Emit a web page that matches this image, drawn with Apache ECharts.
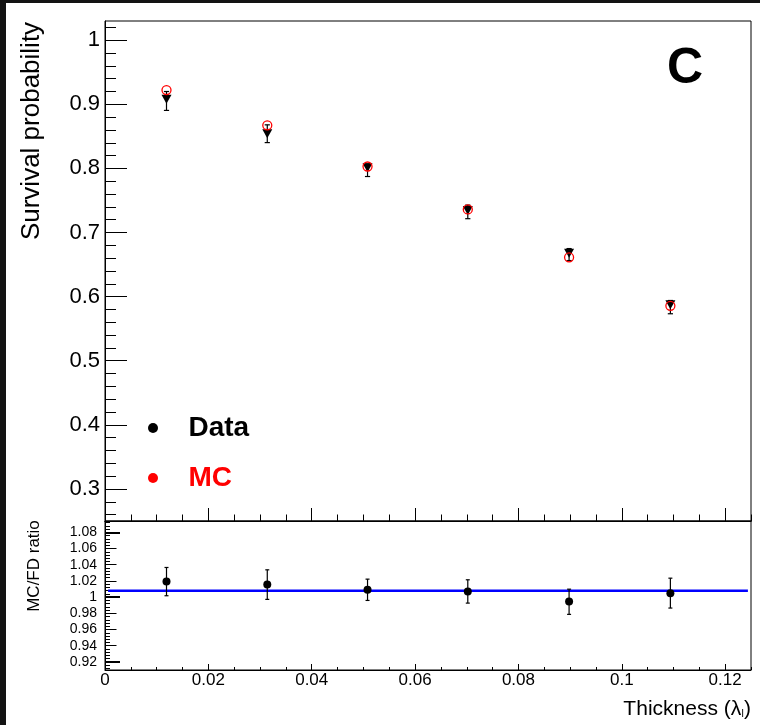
<!DOCTYPE html>
<html><head><meta charset="utf-8">
<script src="https://cdn.jsdelivr.net/npm/echarts@6/dist/echarts.min.js"></script>
<style>html,body{margin:0;padding:0;background:#fff}#c{width:760px;height:725px}</style>
</head><body><div id="c"></div>
<script>
// ---- data ----
const thickness   = [0.0119, 0.0314, 0.0508, 0.0702, 0.0898, 0.1094];
const dataSurv    = [0.9078, 0.8543, 0.8010, 0.7345, 0.6677, 0.5873];
const dataErrLow  = [0.8905, 0.8403, 0.7874, 0.7216, 0.6563, 0.5733];
const dataErrHigh = [0.9200, 0.8680, 0.8070, 0.7428, 0.6750, 0.5940];
const mcSurv      = [0.9222, 0.8672, 0.8030, 0.7360, 0.6614, 0.5857];
const ratioVals   = [1.0193, 1.0156, 1.0091, 1.0070, 0.9947, 1.0049];
const ratioLow    = [1.0017, 0.9972, 0.9959, 0.9926, 0.9787, 0.9865];
const ratioHigh   = [1.0366, 1.0337, 1.0222, 1.0214, 1.0098, 1.0234];
const fitX        = [0.0006, 0.1244];
const fitY        = [1.008, 1.008];
// ---- tick labels ----
const xTicks         = [0, 0.02, 0.04, 0.06, 0.08, 0.1, 0.12];
const yTicks         = [0.3, 0.4, 0.5, 0.6, 0.7, 0.8, 0.9, 1.0];
const ratioTicks     = [0.92, 0.94, 0.96, 0.98, 1.0, 1.02, 1.04, 1.06, 1.08];
const ratioMainTicks = [0.92, 1.0, 1.08];

function steps(a, b, s) { const r = []; const n = Math.round((b - a) / s); for (let k = 0; k <= n; k++) r.push(Math.round((a + k * s) * 1e5) / 1e5); return r; }
const xMinor = steps(0, 0.125, 0.005);
const yMinor = steps(0.26, 1.02, 0.02);
const rMinor = steps(0.912, 1.092, 0.004);

const font = '"Liberation Sans", Arial, Helvetica, sans-serif';
const fmt = v => String(parseFloat(Number(v).toFixed(3)));
const blk = { color: '#000', width: 1 };

function errRender(capHalf) {
  return function (params, api) {
    const x = api.value(0);
    const p1 = api.coord([x, api.value(1)]);
    const p2 = api.coord([x, api.value(2)]);
    const st = { stroke: '#000', lineWidth: 1.2 };
    return { type: 'group', children: [
      { type: 'line', shape: { x1: p1[0], y1: p1[1], x2: p2[0], y2: p2[1] }, style: st },
      { type: 'line', shape: { x1: p1[0] - capHalf, y1: p1[1], x2: p1[0] + capHalf, y2: p1[1] }, style: st },
      { type: 'line', shape: { x1: p2[0] - capHalf, y1: p2[1], x2: p2[0] + capHalf, y2: p2[1] }, style: st }
    ]};
  };
}

function xAx(grid, ticks, len, labels) {
  return { gridIndex: grid, type: 'value', min: 0, max: 0.125, position: 'bottom',
    axisLine: { show: !!labels || grid === 0, lineStyle: blk },
    axisTick: { show: true, inside: true, length: len, customValues: ticks, lineStyle: blk },
    axisLabel: labels ? { show: true, customValues: ticks, formatter: fmt, fontSize: 17, color: '#000', margin: 2, fontFamily: font } : { show: false },
    splitLine: { show: false } };
}
function yAx(grid, min, max, ticks, len, width, label) {
  return { gridIndex: grid, type: 'value', min: min, max: max, position: 'left',
    axisLine: { show: !!label, lineStyle: blk },
    axisTick: { show: true, inside: true, length: len, customValues: ticks, lineStyle: { color: '#000', width: width } },
    axisLabel: label ? Object.assign({ show: true, customValues: ticks, formatter: fmt, color: '#000', fontFamily: font }, label) : { show: false },
    splitLine: { show: false } };
}

const chart = echarts.init(document.getElementById('c'), null, { renderer: 'canvas' });
chart.setOption({
  animation: false,
  backgroundColor: '#fff',
  grid: [
    { left: 105, top: 21, width: 646, height: 500, show: true, borderColor: '#000', borderWidth: 1, backgroundColor: 'transparent' },
    { left: 105, top: 521, width: 646, height: 149, show: true, borderColor: '#000', borderWidth: 1, backgroundColor: 'transparent' }
  ],
  xAxis: [
    xAx(0, xTicks, 13, false),
    xAx(0, xMinor, 6.5, false),
    xAx(1, xTicks, 6, true),
    xAx(1, xMinor, 3, false)
  ],
  yAxis: [
    yAx(0, 0.25, 1.03, yTicks, 22, 1, { fontSize: 22, margin: 5 }),
    yAx(0, 0.25, 1.03, yMinor, 11, 1, null),
    yAx(1, 0.91, 1.094, ratioTicks, 11.5, 1, { fontSize: 14, margin: 8 }),
    yAx(1, 0.91, 1.094, rMinor, 5, 1, null),
    yAx(1, 0.91, 1.094, ratioMainTicks, 15, 2, null)
  ],
  legend: {
    orient: 'vertical', left: 143, top: 409, itemWidth: 61, itemHeight: 10, itemGap: 22,
    selectedMode: false,
    textStyle: { fontSize: 28, fontWeight: 'bold', fontFamily: font, lineHeight: 28 },
    data: [
      { name: 'Data', icon: 'circle', itemStyle: { color: '#000', borderWidth: 0, opacity: 1 }, textStyle: { color: '#000' } },
      { name: 'MC', icon: 'circle', itemStyle: { color: '#ff0000', borderColor: '#ff0000', borderWidth: 0, opacity: 1 }, textStyle: { color: '#ff0000' } }
    ]
  },
  series: [
    { type: 'custom', name: 'DataErr', xAxisIndex: 0, yAxisIndex: 0, z: 2,
      renderItem: errRender(2.6), encode: { x: 0, y: [1, 2] },
      data: thickness.map((x, i) => [x, dataErrLow[i], dataErrHigh[i]]) },
    { type: 'scatter', name: 'Data', xAxisIndex: 0, yAxisIndex: 0, z: 3,
      symbol: 'triangle', symbolRotate: 180, symbolSize: [10, 9],
      itemStyle: { color: '#000', opacity: 1 },
      data: thickness.map((x, i) => [x, dataSurv[i]]) },
    { type: 'scatter', name: 'MC', xAxisIndex: 0, yAxisIndex: 0, z: 4,
      symbol: 'circle', symbolSize: 9,
      itemStyle: { color: 'rgba(0,0,0,0)', borderColor: '#ff0000', borderWidth: 1.3, opacity: 1 },
      data: thickness.map((x, i) => [x, mcSurv[i]]) },
    { type: 'line', name: 'Fit', xAxisIndex: 2, yAxisIndex: 2, z: 1,
      symbol: 'none', lineStyle: { color: '#0000ff', width: 2.5 },
      data: fitX.map((x, i) => [x, fitY[i]]) },
    { type: 'custom', name: 'RatioErr', xAxisIndex: 2, yAxisIndex: 2, z: 2,
      renderItem: errRender(2), encode: { x: 0, y: [1, 2] },
      data: thickness.map((x, i) => [x, ratioLow[i], ratioHigh[i]]) },
    { type: 'scatter', name: 'Ratio', xAxisIndex: 2, yAxisIndex: 2, z: 3,
      symbol: 'circle', symbolSize: 8, itemStyle: { color: '#000', opacity: 1 },
      data: thickness.map((x, i) => [x, ratioVals[i]]) }
  ],
  graphic: [
    { type: 'rect', shape: { x: 0, y: 0, width: 760, height: 3 }, style: { fill: '#131313' }, silent: true },
    { type: 'rect', shape: { x: 0, y: 0, width: 6, height: 725 }, style: { fill: '#131313' }, silent: true },
    { type: 'text', x: 685, y: 69, style: { text: 'C', fontSize: 50, fontWeight: 'bold', fontFamily: font, fill: '#000', align: 'center', verticalAlign: 'middle' } },
    { type: 'text', x: 32, y: 131, rotation: Math.PI / 2, style: { text: 'Survival probability', fontSize: 26, fontFamily: font, fill: '#000', align: 'center', verticalAlign: 'middle' } },
    { type: 'text', x: 34, y: 566, rotation: Math.PI / 2, style: { text: 'MC/FD ratio', fontSize: 17, fontFamily: font, fill: '#000', align: 'center', verticalAlign: 'middle' } },
    { type: 'text', x: 751, y: 709, style: { text: 'Thickness (λ{s|I})', fontSize: 21, fontFamily: font, fill: '#000', align: 'right', verticalAlign: 'middle',
        rich: { s: { fontSize: 10, verticalAlign: 'bottom', fontFamily: font, fill: '#000' } } } }
  ]
});
</script></body></html>
